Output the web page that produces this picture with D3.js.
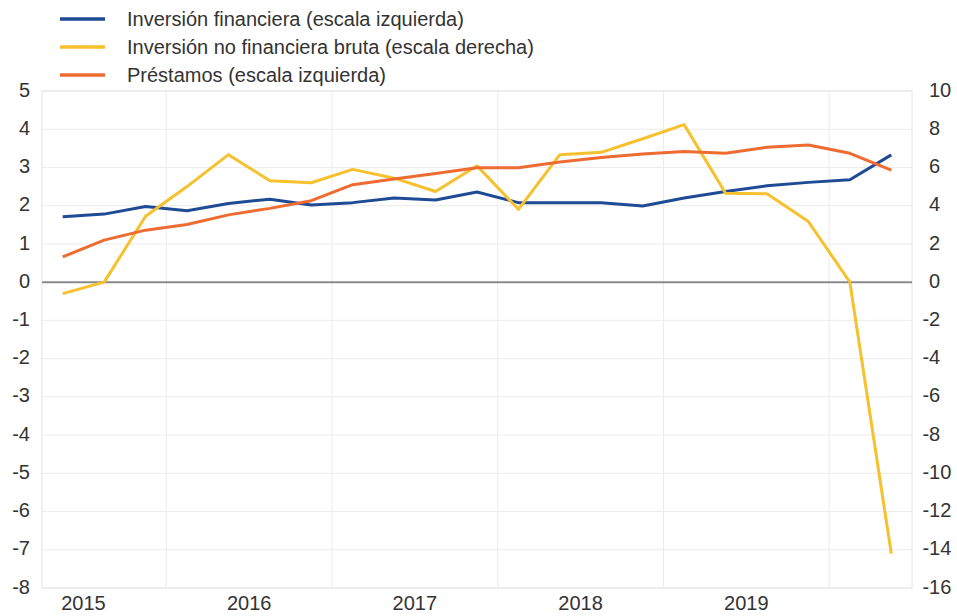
<!DOCTYPE html>
<html>
<head>
<meta charset="utf-8">
<script src="https://cdn.jsdelivr.net/npm/d3@7"></script>
<style>
  html, body { margin: 0; padding: 0; background: #fff; }
  svg { display: block; }
</style>
</head>
<body>
<svg id="chart" width="957" height="616"></svg>
<script>
// quarterly observations, 2015 T1 .. 2020 T1
const quarters = [
  "2015T1", "2015T2", "2015T3", "2015T4",
  "2016T1", "2016T2", "2016T3", "2016T4",
  "2017T1", "2017T2", "2017T3", "2017T4",
  "2018T1", "2018T2", "2018T3", "2018T4",
  "2019T1", "2019T2", "2019T3", "2019T4",
  "2020T1"
];
const years = ["2015", "2016", "2017", "2018", "2019"];

// left scale
const inversionFinanciera = [1.71, 1.78, 1.98, 1.87, 2.06, 2.17, 2.02, 2.08, 2.20, 2.15, 2.36,
  2.08, 2.08, 2.08, 1.99, 2.20, 2.37, 2.52, 2.61, 2.68, 3.33];
const prestamos = [0.66, 1.10, 1.36, 1.51, 1.76, 1.93, 2.13, 2.55, 2.70, 2.84, 2.99,
  2.99, 3.14, 3.26, 3.35, 3.42, 3.37, 3.53, 3.59, 3.37, 2.93];
// right scale
const inversionNoFinanciera = [-0.6, 0.0, 3.45, 5.0, 6.67, 5.3, 5.2, 5.9, 5.44, 4.74, 6.09,
  3.81, 6.67, 6.79, 7.5, 8.24, 4.65, 4.62, 3.17, 0.0, -14.2];

const leftTicks = [5, 4, 3, 2, 1, 0, -1, -2, -3, -4, -5, -6, -7, -8];
const rightTicks = [10, 8, 6, 4, 2, 0, -2, -4, -6, -8, -10, -12, -14, -16];

const series = [
  { name: "Inversión financiera (escala izquierda)", values: inversionFinanciera, axis: "left", color: "#1f4b94" },
  { name: "Inversión no financiera bruta (escala derecha)", values: inversionNoFinanciera, axis: "right", color: "#f6c12c" },
  { name: "Préstamos (escala izquierda)", values: prestamos, axis: "left", color: "#ee6b32" }
];

const W = 957, H = 616;
const m = { top: 91, right: 45, bottom: 28, left: 42 };
const iW = W - m.left - m.right;
const iH = H - m.top - m.bottom;
const FONT = "'Liberation Sans', Arial, sans-serif";

const x = d3.scaleLinear().domain([-0.5, quarters.length - 0.5]).range([0, iW]);
const yL = d3.scaleLinear().domain([-8, 5]).range([iH, 0]);
const yR = d3.scaleLinear().domain([-16, 10]).range([iH, 0]);

const svg = d3.select("#chart").attr("viewBox", `0 0 ${W} ${H}`);

// Legend
const legend = svg.append("g").attr("transform", "translate(60,19)");
series.forEach((s, i) => {
  const row = legend.append("g").attr("transform", `translate(0,${i * 28})`);
  row.append("line")
    .attr("x1", 0).attr("x2", 45)
    .attr("stroke", s.color).attr("stroke-width", 3.5);
  row.append("text")
    .attr("x", 67).attr("dy", "0.35em")
    .style("fill", "#333").style("font-size", "20px").style("font-family", FONT)
    .text(s.name);
});

const g = svg.append("g").attr("transform", `translate(${m.left},${m.top})`);

// Horizontal grid
g.append("g").selectAll("line")
  .data(leftTicks.filter(d => d !== 0)).join("line")
  .attr("x1", 0).attr("x2", iW)
  .attr("y1", d => yL(d)).attr("y2", d => yL(d))
  .attr("stroke", "#ececec").attr("stroke-width", 1);

// Vertical grid at year boundaries
g.append("g").selectAll("line")
  .data(years.map((y, i) => i * 4 + 2.5)).join("line")
  .attr("x1", d => x(d)).attr("x2", d => x(d))
  .attr("y1", 0).attr("y2", iH)
  .attr("stroke", "#ececec").attr("stroke-width", 1);

// Frame
g.append("rect")
  .attr("x", 0).attr("y", 0).attr("width", iW).attr("height", iH)
  .attr("fill", "none").attr("stroke", "#e4e4e4").attr("stroke-width", 1);

// Zero line
g.append("line")
  .attr("x1", 0).attr("x2", iW)
  .attr("y1", yL(0)).attr("y2", yL(0))
  .attr("stroke", "#8a8a8a").attr("stroke-width", 2);

// Lines
const lineFor = s => d3.line()
  .x((d, i) => x(i))
  .y(d => (s.axis === "left" ? yL : yR)(d));

g.selectAll(".series")
  .data(series).join("path")
  .attr("class", "series")
  .attr("d", s => lineFor(s)(s.values))
  .attr("fill", "none")
  .attr("stroke", s => s.color)
  .attr("stroke-width", 3)
  .attr("stroke-linejoin", "round");

// Left axis labels
g.append("g").selectAll("text")
  .data(leftTicks).join("text")
  .attr("x", -12).attr("y", d => yL(d)).attr("dy", "0.28em")
  .attr("text-anchor", "end")
  .style("fill", "#333").style("font-size", "20px").style("font-family", FONT)
  .text(d => String(d));

// Right axis labels (minus sign hangs left of the digits)
g.append("g").selectAll("text")
  .data(rightTicks).join("text")
  .attr("x", iW + 17).attr("y", d => yR(d)).attr("dy", "0.28em")
  .attr("dx", d => d < 0 ? "-0.33em" : 0)
  .attr("text-anchor", "start")
  .style("fill", "#333").style("font-size", "20px").style("font-family", FONT)
  .text(d => String(d));

// Year labels
g.append("g").selectAll("text")
  .data(years).join("text")
  .attr("x", (d, i) => x(i * 4 + 0.5)).attr("y", iH + 22)
  .attr("text-anchor", "middle")
  .style("fill", "#333").style("font-size", "20px").style("font-family", FONT)
  .text(d => d);
</script>
</body>
</html>
